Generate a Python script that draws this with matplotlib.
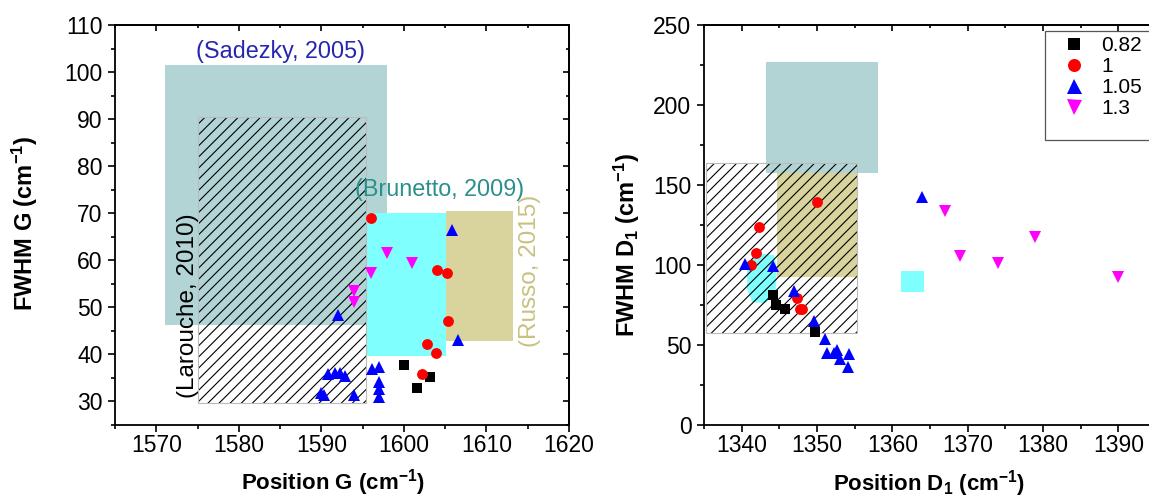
import matplotlib
matplotlib.use('Agg')
import matplotlib.pyplot as plt
from matplotlib.patches import Rectangle, Polygon
from matplotlib.ticker import MultipleLocator, NullFormatter

plt.rcParams['font.family'] = ['Liberation Sans', 'DejaVu Sans']
plt.rcParams['mathtext.fontset'] = 'custom'
plt.rcParams['mathtext.rm'] = 'Liberation Sans:bold'
plt.rcParams['mathtext.bf'] = 'Liberation Sans:bold'
plt.rcParams['mathtext.it'] = 'Liberation Sans:bold'
plt.rcParams['mathtext.default'] = 'rm'
plt.rcParams['hatch.linewidth'] = 0.8

# series labels (legend)
labels = ['0.82', '1', '1.05', '1.3']

# G band: position / FWHM (cm-1)
g_pos_082 = [1600.0, 1601.55, 1603.15]
g_fwhm_082 = [37.7, 32.9, 35.3]
g_pos_1 = [1596.0, 1603.95, 1605.2, 1605.3, 1602.75, 1603.85, 1602.15]
g_fwhm_1 = [69.0, 58.0, 57.3, 47.1, 42.3, 40.3, 35.9]
g_pos_105 = [1592.0, 1605.8, 1606.6, 1590.8, 1591.6, 1592.3, 1592.9, 1590.0, 1590.3,
             1593.9, 1596.1, 1597.0, 1597.0, 1597.0, 1597.0]
g_fwhm_105 = [48.4, 66.4, 43.1, 35.8, 36.1, 36.0, 35.5, 31.7, 31.3,
              31.3, 37.0, 37.3, 34.1, 32.7, 30.9]
g_pos_13 = [1594.0, 1594.0, 1596.0, 1597.9, 1601.0]
g_fwhm_13 = [53.4, 51.1, 57.3, 61.6, 59.5]

# D1 band: position / FWHM (cm-1)
d_pos_082 = [1344.2, 1344.6, 1345.75, 1349.7]
d_fwhm_082 = [80.9, 74.7, 72.0, 57.9]
d_pos_1 = [1350.0, 1342.3, 1341.9, 1341.3, 1347.3, 1347.7, 1348.0]
d_fwhm_1 = [139.0, 123.3, 107.4, 99.7, 78.9, 72.0, 72.3]
d_pos_105 = [1364.0, 1340.4, 1344.1, 1346.95, 1349.6, 1351.1, 1351.3, 1352.3,
             1352.7, 1353.1, 1354.2, 1354.1]
d_fwhm_105 = [142.5, 100.2, 99.3, 83.6, 64.8, 53.8, 44.8, 44.8,
              46.5, 41.3, 44.4, 36.0]
d_pos_13 = [1367.0, 1369.0, 1374.0, 1379.0, 1390.0]
d_fwhm_13 = [133.7, 105.4, 101.2, 117.1, 92.0]

# literature ranges: (pos min, pos max, fwhm min, fwhm max)
g_sadezky = (1571.1, 1598.0, 46.2, 101.5)
g_larouche = (1575.1, 1595.4, 29.6, 90.4)
g_brunetto = (1595.4, 1605.1, 39.6, 70.15)
g_russo = (1605.1, 1613.2, 42.8, 70.4)
d_sadezky = (1343.2, 1358.1, 157.1, 226.6)
d_larouche = (1335.3, 1355.3, 57.3, 163.4)
d_russo = (1344.7, 1355.3, 92.4, 157.1)
d_brunetto = (1361.1, 1364.2, 83.0, 95.9)
d_brunetto_blob_pos = [1340.7, 1341.4, 1342.6, 1344.3, 1344.7, 1344.5, 1343.2, 1341.4, 1340.7]
d_brunetto_blob_fwhm = [98.0, 104.0, 107.0, 106.0, 98.0, 82.0, 76.0, 76.5, 85.0]

TEAL = '#b3d4d5'
CYAN = '#80ffff'
KHAKI = '#d9d49d'


def box(ax, r, color, z=1):
    ax.add_patch(Rectangle((r[0], r[2]), r[1] - r[0], r[3] - r[2],
                           facecolor=color, edgecolor='none', zorder=z))


def hatched(ax, r):
    ax.add_patch(Rectangle((r[0], r[2]), r[1] - r[0], r[3] - r[2], facecolor='none',
                           edgecolor='black', linewidth=0, hatch='///', zorder=3))
    ax.add_patch(Rectangle((r[0], r[2]), r[1] - r[0], r[3] - r[2], facecolor='none',
                           edgecolor='#bbbbbb', linewidth=0.8, zorder=3))


def points(ax, xs, ys):
    h = []
    h += ax.plot(xs[0], ys[0], 's', color='black', ms=6.8, mew=0, zorder=5)
    h += ax.plot(xs[1], ys[1], 'o', color='#ff0000', ms=7.8, mew=0, zorder=5)
    h += ax.plot(xs[2], ys[2], '^', color='#0000ff', ms=9, mew=0, zorder=5)
    h += ax.plot(xs[3], ys[3], 'v', color='#ff00ff', ms=9, mew=0, zorder=5)
    return h


def style(ax, xmaj, ymaj):
    ax.xaxis.set_major_locator(MultipleLocator(xmaj))
    ax.xaxis.set_minor_locator(MultipleLocator(xmaj / 2))
    ax.yaxis.set_major_locator(MultipleLocator(ymaj))
    ax.yaxis.set_minor_locator(MultipleLocator(ymaj / 2))
    for s in ax.spines.values():
        s.set_linewidth(1.3)
    ax.tick_params(which='both', direction='out', width=1.2, labelsize=16.5)
    ax.tick_params(which='major', length=5)
    ax.tick_params(which='minor', length=2.8)
    ax.tick_params(axis='y', pad=4)
    ax.tick_params(axis='x', pad=1.5)
    # inward ticks on top / right
    top = ax.secondary_xaxis('top')
    top.xaxis.set_major_locator(MultipleLocator(xmaj))
    top.xaxis.set_minor_locator(MultipleLocator(xmaj / 2))
    top.xaxis.set_major_formatter(NullFormatter())
    top.tick_params(which='both', direction='in', width=1.2)
    top.tick_params(which='major', length=4.5)
    top.tick_params(which='minor', length=2.5)
    right = ax.secondary_yaxis('right')
    right.yaxis.set_major_locator(MultipleLocator(ymaj))
    right.yaxis.set_minor_locator(MultipleLocator(ymaj / 2))
    right.yaxis.set_major_formatter(NullFormatter())
    right.tick_params(which='both', direction='in', width=1.2)
    right.tick_params(which='major', length=4.5)
    right.tick_params(which='minor', length=2.5)
    for sec in (top, right):
        for s in sec.spines.values():
            s.set_linewidth(1.3)


fig = plt.figure(figsize=(11.49, 5.0), dpi=100)

# ---- G band
ax1 = fig.add_axes([115 / 1149, 0.15, 454 / 1149, 0.80])
box(ax1, g_sadezky, TEAL)
box(ax1, g_brunetto, CYAN)
box(ax1, g_russo, KHAKI)
hatched(ax1, g_larouche)
points(ax1, [g_pos_082, g_pos_1, g_pos_105, g_pos_13],
       [g_fwhm_082, g_fwhm_1, g_fwhm_105, g_fwhm_13])
ax1.text(1585.0, 104.3, '(Sadezky, 2005)', color='#2626b0', fontsize=16.8,
         ha='center', va='center')
ax1.text(1604.3, 75.0, '(Brunetto, 2009)', color='#2b8f8c', fontsize=16.8,
         ha='center', va='center')
ax1.text(1573.9, 50.3, '(Larouche, 2010)', color='black', fontsize=17.5,
         ha='center', va='center', rotation=90)
ax1.text(1615.3, 57.8, '(Russo, 2015)', color='#c9c181', fontsize=17.5,
         ha='center', va='center', rotation=90)
ax1.set_xlim(1565, 1620)
ax1.set_ylim(25, 110)
style(ax1, 10, 10)
ax1.set_xlabel('Position G (cm$^{-1}$)', fontsize=16, fontweight='bold')
ax1.set_ylabel('FWHM G (cm$^{-1}$)', fontsize=17, fontweight='bold')
ax1.xaxis.set_label_coords(0.48, -0.145)
ax1.xaxis.label.set_va('center')
ax1.yaxis.set_label_coords(-0.198, 0.505)
ax1.yaxis.label.set_va('center')

# ---- D1 band
ax2 = fig.add_axes([704 / 1149, 0.151, 452 / 1149, 0.799])
box(ax2, d_sadezky, TEAL)
box(ax2, d_russo, KHAKI)
box(ax2, d_brunetto, CYAN)
ax2.add_patch(Polygon(list(zip(d_brunetto_blob_pos, d_brunetto_blob_fwhm)),
                      closed=True, facecolor=CYAN, edgecolor='none', zorder=1))
hatched(ax2, d_larouche)
handles = points(ax2, [d_pos_082, d_pos_1, d_pos_105, d_pos_13],
                 [d_fwhm_082, d_fwhm_1, d_fwhm_105, d_fwhm_13])
ax2.set_xlim(1335, 1395)
ax2.set_ylim(0, 250)
style(ax2, 10, 50)
ax2.set_xlabel('Position D$_1$ (cm$^{-1}$)', fontsize=16, fontweight='bold')
ax2.set_ylabel('FWHM D$_1$ (cm$^{-1}$)', fontsize=17, fontweight='bold')
ax2.xaxis.set_label_coords(0.498, -0.148)
ax2.xaxis.label.set_va('center')
ax2.yaxis.set_label_coords(-0.17, 0.45)
ax2.yaxis.label.set_va('center')

# legend frame runs past the cropped right edge
ax2.add_patch(Rectangle((0.754, 0.7125), 0.4, 0.2725, transform=ax2.transAxes,
                        facecolor='white', edgecolor='#555555', linewidth=0.9,
                        clip_on=False, zorder=9))
leg = ax2.legend(handles, labels, loc='upper left', bbox_to_anchor=(0.754, 0.987),
                 fontsize=15, frameon=False, borderpad=0.27, handlelength=2.25,
                 handletextpad=0.2, labelspacing=0.1, numpoints=1,
                 markerscale=1.2, borderaxespad=0)
leg.set_zorder(10)

fig.savefig('out.png', dpi=100)
